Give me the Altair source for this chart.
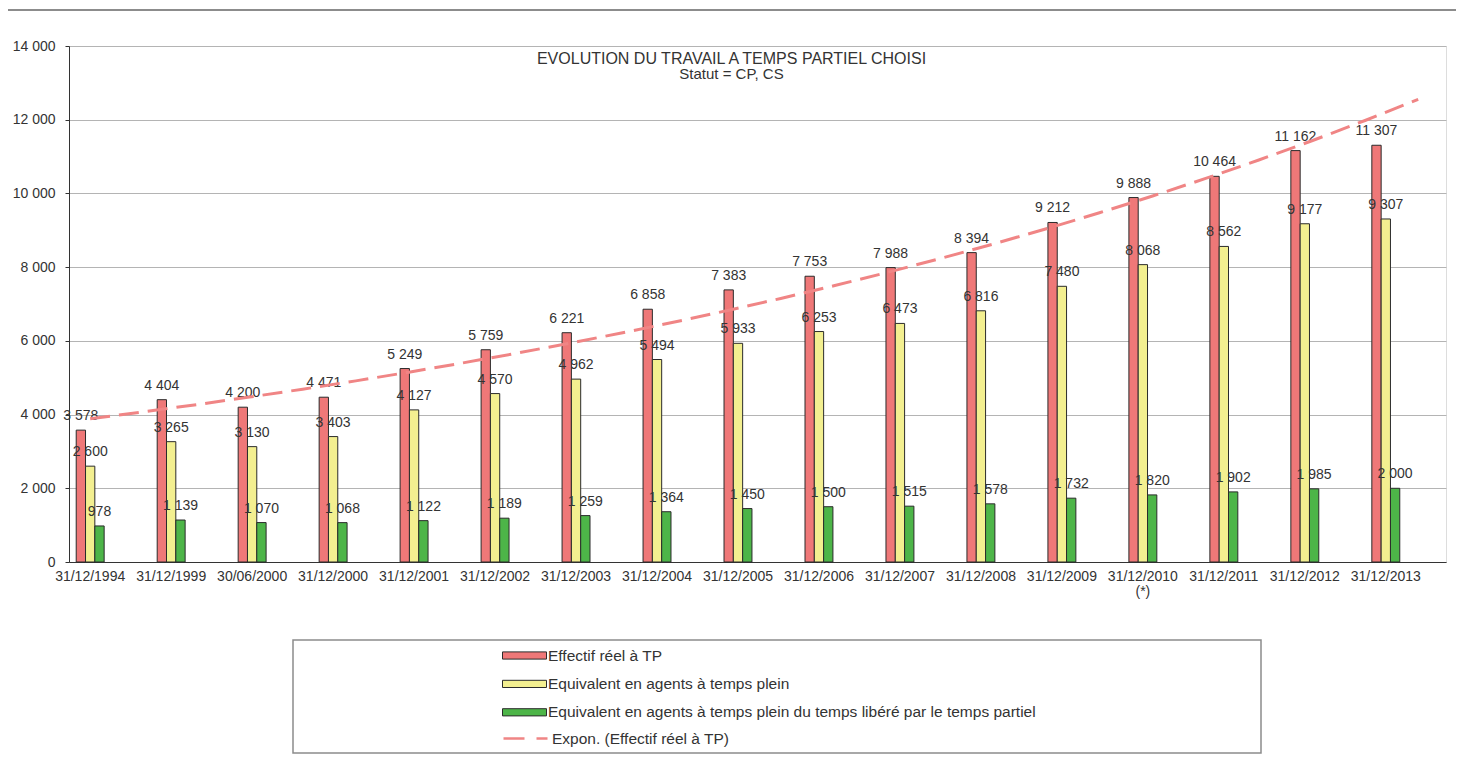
import altair as alt
import pandas as pd

categories = ["31/12/1994", "31/12/1999", "30/06/2000", "31/12/2000", "31/12/2001",
              "31/12/2002", "31/12/2003", "31/12/2004", "31/12/2005", "31/12/2006",
              "31/12/2007", "31/12/2008", "31/12/2009", "31/12/2010 (*)", "31/12/2011",
              "31/12/2012", "31/12/2013"]
effectif = [3578, 4404, 4200, 4471, 5249, 5759, 6221, 6858, 7383, 7753, 7988, 8394,
            9212, 9888, 10464, 11162, 11307]
etp = [2600, 3265, 3130, 3403, 4127, 4570, 4962, 5494, 5933, 6253, 6473, 6816,
       7480, 8068, 8562, 9177, 9307]
etp_libere = [978, 1139, 1070, 1068, 1122, 1189, 1259, 1364, 1450, 1500, 1515, 1578,
              1732, 1820, 1902, 1985, 2000]

series_names = ["Effectif réel à TP",
                "Equivalent en agents à temps plein",
                "Equivalent en agents à temps plein du temps libéré par le temps partiel"]
series_colors = ["#EF7878", "#F3EF90", "#4DB548"]
trend_name = "Expon. (Effectif réel à TP)"

FONT = "Liberation Sans"
TXT = "#333333"

rows = []
for i, c in enumerate(categories):
    for s, vals in zip(series_names, [effectif, etp, etp_libere]):
        v = vals[i]
        rows.append({"cat": c, "idx": i, "serie": s, "value": v,
                     "label": f"{v:,}".replace(",", " ")})
df = pd.DataFrame(rows)
df_eff = pd.DataFrame({"idx": list(range(len(categories))), "effectif": effectif})

# plot geometry
W, H = 1377, 516
n = len(categories)
PI, PO, AL = 0.655, 0.33, 0.135
step = W / (n - PI + 2 * PO)
start = (W - step * (n - PI)) * AL
c0 = start + step * (1 - PI) / 2
d0 = -c0 / step
d1 = (W - c0) / step

xscale = alt.Scale(domain=categories, paddingInner=PI, paddingOuter=PO, align=AL, round=False)
yscale = alt.Scale(domain=[0, 14000], nice=False)
xoff = alt.XOffset("serie:N", scale=alt.Scale(domain=series_names, paddingInner=0, paddingOuter=0))

yaxis = alt.Axis(values=list(range(0, 14001, 2000)),
                 labelExpr="replace(format(datum.value, ','), regexp(',', 'g'), ' ')",
                 grid=True, gridColor="#B4B4B4", domainColor="#333333", tickColor="#333333",
                 tickSize=4, labelPadding=10, labelFont=FONT, labelFontSize=14, labelColor=TXT,
                 title=None)
xaxis = alt.Axis(labelExpr="split(datum.value, ' ')", labelAngle=0, ticks=False,
                 labelPadding=7, labelFont=FONT, labelFontSize=14, labelColor=TXT,
                 domainColor="#333333", title=None, labelLineHeight=15)

bars = alt.Chart(df).mark_bar(stroke="#2b2b2b", strokeWidth=1).encode(
    x=alt.X("cat:N", scale=xscale, axis=xaxis, sort=categories),
    xOffset=xoff,
    y=alt.Y("value:Q", scale=yscale, axis=yaxis),
    color=alt.Color("serie:N", scale=alt.Scale(domain=series_names, range=series_colors),
                    legend=alt.Legend(title=None, orient="none", legendX=445, legendY=599,
                                      symbolType="M-2.2,-0.36H2.2V0.36H-2.2Z", symbolSize=400,
                                      symbolStrokeColor="#2b2b2b", symbolStrokeWidth=1,
                                      symbolOpacity=1, labelFont=FONT, labelFontSize=15.5,
                                      labelColor=TXT, labelOffset=13, rowPadding=9.4,
                                      padding=0, labelLimit=900)),
)

labels = alt.Chart(df).mark_text(font=FONT, fontSize=14, color=TXT, baseline="alphabetic",
                                 dy=-10).encode(
    x=alt.X("cat:N", scale=xscale, sort=categories, axis=None),
    xOffset=xoff,
    y=alt.Y("value:Q", scale=yscale),
    text="label:N",
)

trend = alt.Chart(df_eff).transform_calculate(
    lny="log(datum.effectif)"
).transform_regression(
    "idx", "lny", method="poly", order=1, extent=[0, 16.4]
).transform_calculate(
    effectif="exp(datum.lny)", serie=f"'{trend_name}'"
).mark_line(
    strokeDash=[20, 9], strokeWidth=3
).encode(
    x=alt.X("idx:Q", scale=alt.Scale(domain=[d0, d1], nice=False, zero=False), axis=None),
    y=alt.Y("effectif:Q", scale=yscale),
    stroke=alt.Stroke("serie:N", scale=alt.Scale(domain=[trend_name], range=["#F08585"]),
                      legend=alt.Legend(title=None, orient="none", legendX=433, legendY=669,
                                        symbolType="stroke", symbolSize=1936,
                                        symbolStrokeWidth=2.5, symbolDash=[21, 12],
                                        labelFont=FONT, labelFontSize=15.5, labelColor=TXT,
                                        labelOffset=3, padding=0, labelLimit=900)),
)

one = alt.Data(values=[{"a": 1}])
frame_top = alt.Chart(one).mark_rule(color="#8c8c8c", strokeWidth=2).encode(
    x=alt.value(-62), x2=alt.value(1395), y=alt.value(-36))
frame_left = alt.Chart(one).mark_rule(color="#8c8c8c", strokeWidth=2).encode(
    x=alt.value(-62), y=alt.value(-36), y2=alt.value(711))
legend_box = alt.Chart(one).mark_rect(fillOpacity=0, stroke="#8c8c8c", strokeWidth=1.5).encode(
    x=alt.value(293 - 69), x2=alt.value(1261 - 69), y=alt.value(640 - 46), y2=alt.value(753 - 46))

chart = alt.layer(bars, labels, trend, frame_top, frame_left, legend_box).resolve_scale(
    x="independent"
).properties(
    width=W, height=H,
    autosize=alt.AutoSizeParams(type="none"),
    padding={"left": 61, "top": 38, "right": 10, "bottom": 195},
    title=alt.TitleParams(text="EVOLUTION DU TRAVAIL A TEMPS PARTIEL CHOISI",
                          subtitle="Statut = CP, CS", anchor="middle", dx=-26, offset=-73,
                          font=FONT, fontSize=16, fontWeight="normal", color=TXT,
                          subtitleFont=FONT, subtitleFontSize=15, subtitleColor=TXT,
                          subtitlePadding=0),
).configure_view(stroke="#888888", strokeWidth=1.5).configure(background="white")

chart.save("out.html", embed_options={"renderer": "svg", "actions": False})
